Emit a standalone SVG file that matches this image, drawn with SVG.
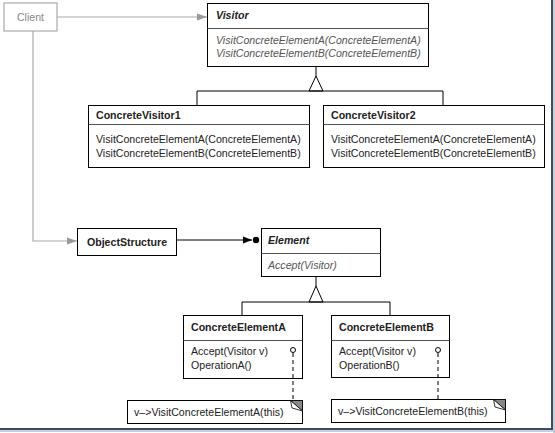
<svg xmlns="http://www.w3.org/2000/svg" width="555" height="433" viewBox="0 0 555 433">
<style>
.box{fill:#fff;stroke:#000;stroke-width:1}
.div{stroke:#555;stroke-width:1}
.t{font-family:"Liberation Sans",Arial,sans-serif;font-size:10.6px;fill:#222}
.b{font-weight:bold}
.i{font-style:italic}
.gi{fill:#555}
.ln{fill:none;stroke:#000;stroke-width:1}
.gl{fill:none;stroke:#aaa;stroke-width:1.2}
.dash{fill:none;stroke:#000;stroke-width:1;stroke-dasharray:4,3}
</style>
<defs>
<marker id="ga" markerWidth="10" markerHeight="8" refX="10" refY="4" orient="auto" markerUnits="userSpaceOnUse">
<path d="M0,0.5 L10,4 L0,7.5 Z" fill="#999"/>
</marker>
</defs>
<rect x="0" y="0" width="555" height="433" fill="#fff"/>
<g id="client">
<rect x="4" y="3" width="53" height="28" fill="#fff" stroke="#aaa" stroke-width="1.2"/>
<text class="t" x="30.5" y="21" text-anchor="middle" style="fill:#888">Client</text>
</g>
<g id="visitor">
<rect class="box" x="207.5" y="3.5" width="221" height="63"/>
<line class="div" x1="207.5" y1="28.5" x2="428.5" y2="28.5"/>
<text class="t b i" x="216" y="19">Visitor</text>
<text class="t i gi" x="216" y="44">VisitConcreteElementA(ConcreteElementA)</text>
<text class="t i gi" x="216" y="57">VisitConcreteElementB(ConcreteElementB)</text>
</g>
<g id="concretevisitor1">
<rect class="box" x="88.5" y="105.5" width="221" height="62"/>
<line class="div" x1="88.5" y1="124.5" x2="309.5" y2="124.5"/>
<text class="t b" x="96" y="119">ConcreteVisitor1</text>
<text class="t" x="96" y="143">VisitConcreteElementA(ConcreteElementA)</text>
<text class="t" x="96" y="157">VisitConcreteElementB(ConcreteElementB)</text>
</g>
<g id="concretevisitor2">
<rect class="box" x="323.5" y="105.5" width="221" height="62"/>
<line class="div" x1="323.5" y1="124.5" x2="544.5" y2="124.5"/>
<text class="t b" x="331" y="119">ConcreteVisitor2</text>
<text class="t" x="331" y="143">VisitConcreteElementA(ConcreteElementA)</text>
<text class="t" x="331" y="157">VisitConcreteElementB(ConcreteElementB)</text>
</g>
<g id="objectstructure">
<rect class="box" x="77.5" y="228.5" width="99" height="27"/>
<text class="t b" x="127" y="245.5" text-anchor="middle">ObjectStructure</text>
</g>
<g id="element">
<rect class="box" x="261.5" y="228.5" width="119" height="48"/>
<line class="div" x1="261.5" y1="253.5" x2="380.5" y2="253.5"/>
<text class="t b i" x="268" y="243.5">Element</text>
<text class="t i gi" x="268" y="268.5">Accept(Visitor)</text>
</g>
<g id="concreteelementa">
<rect class="box" x="183.5" y="315.5" width="119" height="63"/>
<line class="div" x1="183.5" y1="340.5" x2="302.5" y2="340.5"/>
<text class="t b" x="191" y="331">ConcreteElementA</text>
<text class="t" x="191" y="355">Accept(Visitor v)</text>
<text class="t" x="191" y="369">OperationA()</text>
</g>
<g id="concreteelementb">
<rect class="box" x="331.5" y="315.5" width="118" height="62"/>
<line class="div" x1="331.5" y1="340.5" x2="449.5" y2="340.5"/>
<text class="t b" x="339" y="331">ConcreteElementB</text>
<text class="t" x="339" y="355">Accept(Visitor v)</text>
<text class="t" x="339" y="369">OperationB()</text>
</g>
<g id="notea">
<rect class="box" x="127.5" y="400.5" width="175" height="23"/>
<polygon points="290.5,400.5 302.5,400.5 302.5,411" fill="#888" stroke="#000" stroke-width="0.8"/>
<polygon points="290.5,400.5 302.5,411 292,408" fill="#fff" stroke="#000" stroke-width="0.8"/>
<text class="t" x="134" y="415.5">v–&gt;VisitConcreteElementA(this)</text>
</g>
<g id="noteb">
<rect class="box" x="331.5" y="399.5" width="174" height="23"/>
<polygon points="493.5,399.5 505.5,399.5 505.5,410" fill="#888" stroke="#000" stroke-width="0.8"/>
<polygon points="493.5,399.5 505.5,410 495,407" fill="#fff" stroke="#000" stroke-width="0.8"/>
<text class="t" x="338" y="414.5">v–&gt;VisitConcreteElementB(this)</text>
</g>
<g id="connectors">
<path class="gl" d="M57,17 H207" marker-end="url(#ga)"/>
<path class="gl" d="M33,31 V241 H77" marker-end="url(#ga)"/>
<path class="ln" d="M316,66 V76"/>
<path class="ln" d="M316,76 L309,91 H323 Z" fill="#fff"/>
<path class="ln" d="M197,105 V91 H443 V105"/>
<path class="ln" d="M177,240 H252"/>
<path d="M243,236.5 L252,240 L243,243.5 Z" fill="#000"/>
<circle cx="256" cy="240" r="3.2" fill="#000"/>
<path class="ln" d="M316,277 V286"/>
<path class="ln" d="M316,286 L309,302 H323 Z" fill="#fff"/>
<path class="ln" d="M242,315 V302 H390 V315"/>
<path class="dash" d="M293,353 V400"/>
<circle cx="293" cy="350" r="2.5" fill="#fff" stroke="#000"/>
<path class="dash" d="M438,353 V399"/>
<circle cx="438" cy="350" r="2.5" fill="#fff" stroke="#000"/>
</g>
<g id="frame">
<line x1="552" y1="0" x2="552" y2="430" stroke="#3c4a66" stroke-width="2"/>
<line x1="0" y1="429" x2="553" y2="429" stroke="#3c4a66" stroke-width="2"/>
<line x1="554" y1="0" x2="554" y2="433" stroke="#b8c0cc" stroke-width="1.5"/>
<line x1="0" y1="431" x2="555" y2="431" stroke="#b8c0cc" stroke-width="1.5"/>
</g>
</svg>
